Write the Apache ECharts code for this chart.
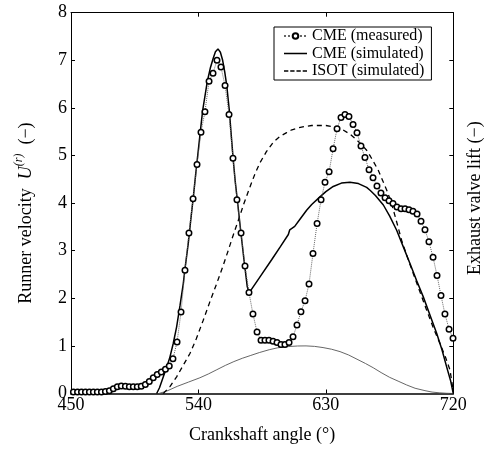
<!DOCTYPE html>
<html><head><meta charset="utf-8">
<script src="https://cdn.jsdelivr.net/npm/echarts@6/dist/echarts.min.js"></script>
<style>html,body{margin:0;padding:0;background:#fff}#c{width:485px;height:450px}</style>
</head><body><div id="c"></div>
<script>
const xTicks = [450, 540, 630, 720];
const yTicks = [0, 1, 2, 3, 4, 5, 6, 7, 8];
const seriesNames = ['CME (measured)', 'CME (simulated)', 'ISOT (simulated)'];
const xTitle = 'Crankshaft angle (°)';
const rightTitle = 'Exhaust valve lift (−)';

const measured = [
[451.7,0.03],[454.6,0.03],[457.4,0.03],[460.2,0.03],[463,0.03],[465.8,0.03],[468.6,0.03],[471.5,0.03],
[474.3,0.04],[477.1,0.06],[479.9,0.10],[482.7,0.14],[485.5,0.16],[488.4,0.15],[491.2,0.14],[494,0.14],
[496.8,0.14],[499.6,0.15],[502.5,0.19],[505.3,0.25],[508.1,0.33],[510.9,0.40],[513.8,0.45],[516.7,0.51],
[519.4,0.58],[522,0.73],[524.9,1.08],[527.7,1.71],[530.5,2.59],[533.3,3.37],[536.2,4.09],[539,4.81],
[541.8,5.49],[544.6,5.92],[547.5,6.56],[550.3,6.73],[553.1,7.00],[555.9,6.86],[558.8,6.47],[561.6,5.86],
[564.4,4.94],[567.2,4.07],[570.1,3.37],[572.9,2.68],[575.7,2.12],[578.5,1.67],[581.4,1.29],[584.2,1.12],
[587,1.12],[589.8,1.12],[592.7,1.10],[595.5,1.07],[598.3,1.03],[601.1,1.03],[604,1.07],[606.8,1.19],
[609.6,1.44],[612.4,1.72],[615.3,1.95],[618.1,2.30],[620.9,2.94],[623.8,3.57],[626.6,4.07],[629.4,4.44],
[632.3,4.66],[635.1,5.14],[637.9,5.56],[640.7,5.80],[643.5,5.86],[646.3,5.82],[649.2,5.65],[652,5.48],
[654.8,5.20],[657.6,4.96],[660.5,4.70],[663.3,4.53],[666.1,4.36],[668.9,4.21],[671.8,4.11],[674.6,4.05],
[677.4,3.99],[680.2,3.92],[683.1,3.88],[685.9,3.88],[688.7,3.86],[691.5,3.83],[694.4,3.77],[697.2,3.62],
[700,3.44],[702.8,3.19],[705.7,2.86],[708.5,2.48],[711.3,2.06],[714.1,1.67],[717,1.35],[719.8,1.16]
];

const simulated = [
[510.5,0],[512.5,0.12],[515.2,0.35],[517.6,0.55],[519.9,0.77],[522.2,1.05],[524.6,1.40],[527,1.85],
[529.3,2.31],[530.5,2.62],[532.8,3.15],[534.6,3.65],[536.4,4.13],[538.1,4.62],[539.9,5.11],[541.5,5.55],
[543,5.95],[546.3,6.56],[548.5,6.85],[550.5,7.05],[552,7.18],[553.8,7.24],[555.5,7.17],[557.1,7.0],
[558.6,6.75],[560,6.47],[561.8,5.95],[563.2,5.42],[564.6,4.90],[566,4.45],[567.5,4.06],[569.8,3.43],
[572.2,2.80],[574.5,2.24],[575.9,2.12],[583,2.43],[591.7,2.81],[598,3.09],[603.5,3.34],[604.5,3.44],
[605.5,3.42],[608,3.51],[611.7,3.66],[616.4,3.85],[620,3.97],[625.8,4.13],[630,4.24],[635.2,4.35],
[641,4.42],[647,4.44],[653,4.41],[658.8,4.33],[661.2,4.27],[665,4.16],[670.6,3.96],[675,3.73],
[680,3.43],[684.7,3.08],[689.4,2.73],[694,2.38],[698.8,2.03],[703.5,1.65],[708.3,1.26],[712,0.92],
[715.3,0.56],[718,0.28],[720,0]
];

const isot = [
[515.2,0],[520,0.15],[524.6,0.35],[529,0.58],[534,0.84],[538.5,1.15],[543.4,1.54],[548,1.92],
[552.9,2.31],[557,2.65],[561.1,3.01],[564.5,3.32],[568.2,3.64],[572,3.98],[576.4,4.34],[580,4.62],
[583.5,4.85],[588,5.08],[592.9,5.28],[597.5,5.40],[602.3,5.48],[606,5.54],[610.5,5.58],[615,5.61],
[620,5.63],[625,5.63],[630,5.63],[634,5.61],[637.6,5.59],[642,5.54],[647,5.45],[652,5.32],
[655.5,5.22],[658.8,5.11],[661.5,4.98],[664,4.85],[667,4.69],[670,4.48],[673,4.27],[676,4.03],
[679.5,3.66],[683.5,3.22],[687.5,2.87],[691.7,2.52],[696.5,2.13],[701.2,1.75],[706,1.37],[710.6,1.05],
[714.5,0.76],[717.7,0.49],[720,0.04]
];

const valveLift = [
[512,0],[517.6,0.05],[525,0.15],[533,0.24],[541,0.33],[547,0.41],[553,0.50],[559,0.59],
[565,0.67],[571,0.74],[577,0.80],[583,0.86],[590,0.92],[596,0.96],[603,0.985],[610,0.998],
[616,1.0],[622,0.99],[628,0.965],[634,0.93],[640,0.88],[646,0.81],[652,0.72],[658,0.63],
[663.5,0.54],[669,0.44],[675,0.34],[681,0.26],[687,0.18],[693,0.11],[700,0.06],[705,0.03],
[710,0.015],[715,0.005],[720,0]
];

const FONT = 'Liberation Serif';
const chart = echarts.init(document.getElementById('c'), null, {renderer: 'canvas'});
const axisCommon = {
  type: 'value',
  axisLine: {show: true, onZero: false, lineStyle: {color: '#000', width: 1}},
  axisTick: {show: true, inside: true, length: 4, lineStyle: {color: '#000', width: 1}},
  splitLine: {show: false}
};
const solidIcon = 'path://M0,0h24v1.6h-24z';
const dashIcon = 'path://M0,0h4.5v1.4h-4.5zM6.5,0h4.5v1.4h-4.5zM13,0h4.5v1.4h-4.5zM19.5,0h4.5v1.4h-4.5z';
const option = {
  animation: false,
  backgroundColor: '#fff',
  grid: {left: 71, right: 31.7, top: 12.7, bottom: 56.5, containLabel: false, outerBoundsMode: 'none'},
  legend: {
    orient: 'vertical',
    left: 274, top: 27,
    data: [
      {name: seriesNames[0]},
      {name: seriesNames[1], icon: solidIcon, itemStyle: {color: '#000'}},
      {name: seriesNames[2], icon: dashIcon, itemStyle: {color: '#000'}}
    ],
    backgroundColor: '#fff',
    borderColor: '#000', borderWidth: 1,
    padding: [1, 7, 1, 9],
    itemGap: 1.5,
    itemWidth: 23, itemHeight: 7,
    textStyle: {fontFamily: FONT, fontSize: 16, color: '#000', lineHeight: 16}
  },
  xAxis: [
    Object.assign({}, axisCommon, {
      position: 'bottom',
      min: xTicks[0], max: xTicks[xTicks.length - 1], interval: xTicks[1] - xTicks[0],
      axisLine: {show: true, onZero: false, lineStyle: {color: '#000', width: 1.6}},
      axisLabel: {fontFamily: FONT, fontSize: 18, color: '#000', margin: 3},
      name: xTitle, nameLocation: 'middle', nameGap: 33,
      nameTextStyle: {fontFamily: FONT, fontSize: 18, color: '#000'}
    }),
    Object.assign({}, axisCommon, {
      position: 'top',
      min: xTicks[0], max: xTicks[xTicks.length - 1], interval: xTicks[1] - xTicks[0],
      axisLabel: {show: false}
    })
  ],
  yAxis: [
    Object.assign({}, axisCommon, {
      position: 'left',
      min: yTicks[0], max: yTicks[yTicks.length - 1], interval: yTicks[1] - yTicks[0],
      axisLabel: {fontFamily: FONT, fontSize: 18, color: '#000', margin: 4},
      name: '{a|Runner velocity  }{b|U}{c|(r)}{a|  (−)}',
      nameLocation: 'middle', nameGap: 36, nameRotate: 90,
      nameTextStyle: {
        fontFamily: FONT, fontSize: 18, color: '#000',
        padding: [0, 20, 0, 0],
        rich: {
          a: {fontFamily: FONT, fontSize: 18, color: '#000', lineHeight: 22, verticalAlign: 'bottom'},
          b: {fontFamily: FONT, fontSize: 18, fontStyle: 'italic', color: '#000', lineHeight: 22, verticalAlign: 'bottom'},
          c: {fontFamily: FONT, fontSize: 12, fontStyle: 'italic', color: '#000', lineHeight: 12, verticalAlign: 'top'}
        }
      }
    }),
    Object.assign({}, axisCommon, {
      position: 'right',
      min: yTicks[0], max: yTicks[yTicks.length - 1], interval: yTicks[1] - yTicks[0],
      axisLabel: {show: false},
      name: rightTitle, nameLocation: 'middle', nameGap: 13, nameRotate: 90,
      nameTextStyle: {fontFamily: FONT, fontSize: 18, color: '#000', padding: [0, 0, 0, 10]}
    })
  ],
  series: [
    {
      name: 'Exhaust valve lift', type: 'line', xAxisIndex: 0, yAxisIndex: 1,
      data: valveLift, symbol: 'none', smooth: false, silent: true,
      lineStyle: {color: '#555', width: 0.9}, z: 1
    },
    {
      name: seriesNames[2], type: 'line', xAxisIndex: 0, yAxisIndex: 0,
      data: isot, symbol: 'none',
      lineStyle: {color: '#000', width: 1.3, type: [5, 4]}, itemStyle: {color: '#000'}, z: 2
    },
    {
      name: seriesNames[1], type: 'line', xAxisIndex: 0, yAxisIndex: 0,
      data: simulated, symbol: 'none',
      lineStyle: {color: '#000', width: 1.5}, itemStyle: {color: '#000'}, z: 3
    },
    {
      name: seriesNames[0], type: 'line', xAxisIndex: 0, yAxisIndex: 0,
      data: measured, symbol: 'circle', symbolSize: 5.5, showAllSymbol: true,
      lineStyle: {color: '#666', width: 1, type: 'dotted'},
      itemStyle: {color: '#fff', borderColor: '#000', borderWidth: 1.5}, z: 4
    }
  ]
};
chart.setOption(option);
</script>
</body></html>
